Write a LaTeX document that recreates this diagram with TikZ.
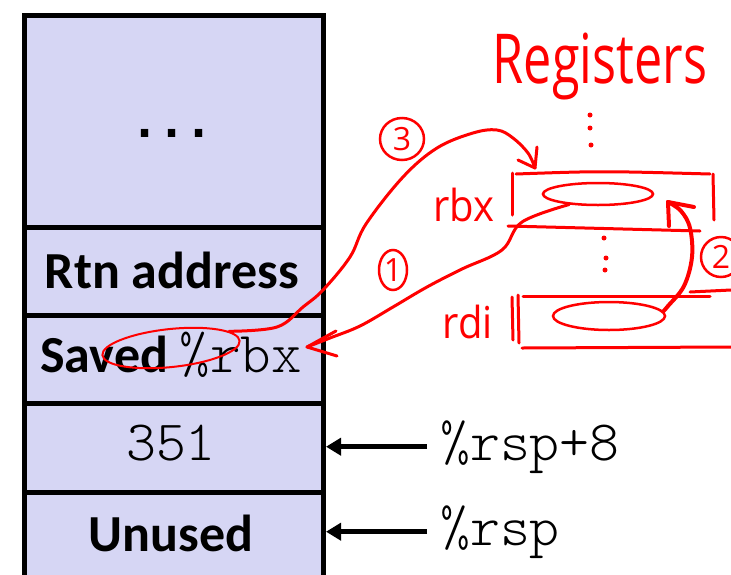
\documentclass[tikz,border=0pt]{standalone}
\usepackage{fontspec}
\setmainfont{Carlito}
\setmonofont{Latin Modern Mono Light}
\newfontfamily\dotfont{DejaVu Sans Mono}
\newfontfamily\handfont{Open Sans}
\usetikzlibrary{arrows.meta,shapes.geometric}
\definecolor{cellfill}{RGB}{214,214,244}
\definecolor{ink}{RGB}{255,0,0}
\begin{document}
\begin{tikzpicture}[x=1pt,y=-1pt,
  cell/.style={draw=black, line width=5pt, fill=cellfill, minimum width=299pt,
               inner sep=0pt, anchor=north west},
  boldtxt/.style={font=\fontsize{52}{60}\selectfont\bfseries, inner sep=0pt, anchor=base},
  codetxt/.style={font=\fontsize{57}{60}\selectfont\ttfamily, inner sep=0pt, anchor=base},
  ptrlabel/.style={codetxt, anchor=base west, inner xsep=13pt},
  ptr/.style={line width=5pt, -{Triangle[length=15pt,width=17pt]}},
  pen/.style={draw=ink, line width=3pt, line cap=round, line join=round},
  hand/.style={text=ink, inner sep=0pt, anchor=base},
  numring/.style={draw=ink, line width=2.5pt, ellipse, inner sep=0pt, text=ink,
                  font=\handfont\fontsize{32}{32}\selectfont},
  valring/.style={draw=ink, line width=2.5pt, ellipse, inner sep=0pt},
  inkdot/.style={fill=ink, circle, inner sep=0pt, minimum size=5pt},
]
\useasboundingbox (0,0) rectangle (731,574);
\clip (0,0) rectangle (731,574);

% stack frames
\node[cell, minimum height=212pt] (c1) at (22,13) {};
\node[cell, minimum height=88pt] (c2) at (22,225) {};
\node[cell, minimum height=88pt] (c3) at (22,313) {};
\node[cell, minimum height=89pt] (c4) at (22,401) {};
\node[cell, minimum height=110pt] (c5) at (22,490) {};

\node[inner sep=0pt, anchor=base, font=\fontsize{45}{50}\selectfont\dotfont\bfseries] (ell) at (172,137) {...};
\node[boldtxt] (rtn) at (172,288) {Rtn address};
\node[boldtxt] (saved) at (171,372) {Saved {\ttfamily\mdseries\fontsize{58}{60}\selectfont\%rbx}};
\node[codetxt] (v351) at (171,460) {351};
\node[boldtxt] (unused) at (171,551) {Unused};

% stack pointer labels
\node[ptrlabel] (rsp8) at (427,460) {\%rsp+8};
\node[ptrlabel] (rsp) at (427,545) {\%rsp};
\draw[ptr] (rsp8.west) -- (rsp8.west -| c4.east);
\draw[ptr] (rsp.west) -- (rsp.west -| c5.east);

% register file sketch
\node[hand, font=\handfont\fontsize{53}{60}\selectfont] (regs) at (600,83) {\scalebox{0.95}[1.3]{Registers}};
\node[hand, font=\handfont\fontsize{40}{44}\selectfont] (rbxname) at (464,221) {\scalebox{1}[1.1]{rbx}};
\node[hand, font=\handfont\fontsize{40}{44}\selectfont] (rdiname) at (468,338) {\scalebox{1}[1.1]{rdi}};

\node[inkdot] (d1) at (590,115) {};
\node[inkdot] (d2) at (590,128) {};
\node[inkdot] (d3) at (591,145) {};
\node[inkdot] (d4) at (604,238) {};
\node[inkdot] (d5) at (606,258) {};
\node[inkdot] (d6) at (605,270) {};

\draw[pen] (512,173) -- (512,215);
\draw[pen] (516,174) .. controls (600,171) .. (710,174);
\draw[pen] (713,174) -- (714,220);
\draw[pen] (508,226) -- (700,231);
\draw[pen] (512,297) -- (513,340);
\draw[pen] (518,295) -- (519,343);
\draw[pen] (523,296) -- (710,296);
\draw[pen] (690,292) -- (731,290);
\draw[pen] (522,348) -- (731,347);

\node[valring, minimum width=110pt, minimum height=22pt] (rbxval) at (598,194) {};
\node[valring, minimum width=112pt, minimum height=28pt] (rdival) at (609,316) {};
\node[valring, line width=2pt, minimum width=138pt, minimum height=38pt, rotate=6] (savedring) at (171,348) {};

\node[numring, minimum width=44pt, minimum height=42pt] (n3) at (402,139) {3};
\node[numring, minimum width=28pt, minimum height=40pt] (n1) at (393,270) {1};
\node[numring, minimum width=40pt, minimum height=40pt] (n2) at (721,257) {2};

% step 1: rbx is saved on the stack
\coordinate (tip1) at (307,347);
\draw[pen] plot[smooth, tension=0.6] coordinates {(rbxval.200) (522,222) (502,250) (462,269) (427,287) (393,307) (360,326) (330,338) (tip1)};
\draw[pen] (tip1) -- (336,331);
\draw[pen] (tip1) -- (337,356);

% step 2: rdi copied into rbx
\coordinate (tip2) at (668,202);
\draw[pen, line width=4pt] plot[smooth, tension=0.6] coordinates {(rdival.5) (668,306) (684,286) (692,257) (690,228) (681,211) (tip2)};
\draw[pen, line width=4pt] (tip2) -- (669,226);
\draw[pen, line width=4pt] (tip2) -- (694,207);

% step 3: rbx restored from the stack
\coordinate (tip3) at (535,168);
\draw[pen] plot[smooth, tension=0.6] coordinates {(savedring.10) (277,327) (303,307) (323,290) (350,257) (366,224) (403,177) (437,148) (473,133) (497,130) (513,138) (528,153) (tip3)};
\draw[pen] (tip3) -- (537,147);
\draw[pen] (tip3) -- (518,160);
\end{tikzpicture}
\end{document}
